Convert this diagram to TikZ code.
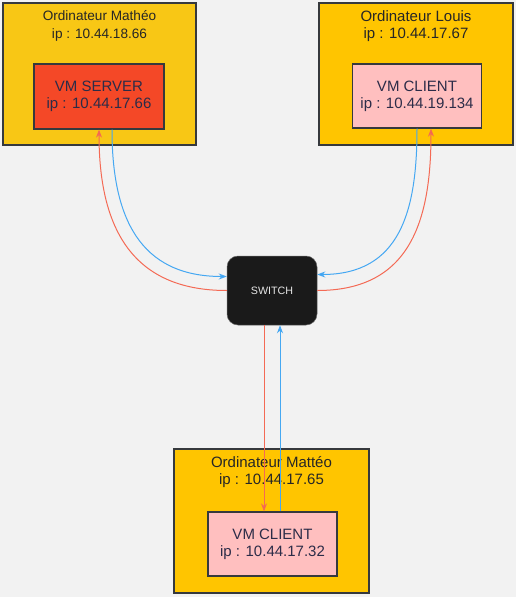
\documentclass[tikz,border=0pt]{standalone}
\usepackage{fontspec}
\setmainfont{Liberation Sans}
\usepackage{tikz}
\usetikzlibrary{arrows.meta}

% ---------- Colours ----------
\definecolor{bgcolor}{HTML}{F2F2F2}
\definecolor{pcyellowA}{HTML}{F8C715}
\definecolor{pcyellowB}{HTML}{FFC500}
\definecolor{servercolor}{HTML}{F44827}
\definecolor{clientcolor}{HTML}{FFBFBF}
\definecolor{switchcolor}{HTML}{1A1A1A}
\definecolor{bordercolor}{HTML}{36393D}
\definecolor{vmtextcolor}{HTML}{2C2C48}
\definecolor{redline}{HTML}{F46A55}
\definecolor{blueline}{HTML}{45A8F2}

\tikzset{
  pcbox/.style={draw=bordercolor, line width=1.3pt, minimum width=192pt, minimum height=142pt, inner sep=0pt},
  vmbox/.style={draw=bordercolor, line width=1.3pt, minimum width=129pt, minimum height=64pt, align=center,
    text=vmtextcolor, font=\fontsize{15}{17}\selectfont},
  pctitle/.style={align=center, text=black!85, font=\fontsize{15}{17}\selectfont},
  tored/.style={draw=redline, line width=1pt, -{Stealth[length=8pt,width=6pt,fill=servercolor]}},
  toblue/.style={draw=blueline, line width=1pt, -{Stealth[length=8pt,width=6pt,fill=blueline!80!blue]}},
}

\begin{document}
\begin{tikzpicture}[x=1pt,y=-1pt]

% ---------- Parameters of the drawing ----------
\def\LinkShift{14}     % Distance between the two links of a pair
\def\TitleGap{5}       % Distance from the top of a computer to its first title line
\def\Bend{1.2}         % Looseness of the curved links

% (0,0) coordinate = upper left corner of the picture, y going down

% ---------- Background ----------
\fill[bgcolor] (0,0) rectangle (516,597);
\useasboundingbox (0,0) rectangle (516,597);

% ---------- Computers ----------
\node[pcbox, fill=pcyellowA, minimum width=193pt] (pcMatheo) at (99.5,74) {};
\node[pcbox, fill=pcyellowB, minimum width=194pt] (pcLouis) at (416,74) {};
\node[pcbox, fill=pcyellowB, minimum width=195pt, minimum height=144pt] (pcMatteo) at (271.5,521) {};

% Titles
\node[pctitle, font=\fontsize{13.6}{17.5}\selectfont, anchor=north] (titleMatheo) at ([yshift=-\TitleGap]pcMatheo.north)
  {Ordinateur Mathéo\\ip : 10.44.18.66};
\node[pctitle, anchor=north] (titleLouis) at ([yshift=-\TitleGap]pcLouis.north)
  {Ordinateur Louis\\ip : 10.44.17.67};
\node[pctitle, anchor=north] (titleMatteo) at ([yshift=-\TitleGap]pcMatteo.north)
  {Ordinateur Mattéo\\ip : 10.44.17.65};

% ---------- Virtual machines ----------
\node[vmbox, fill=servercolor, minimum width=130pt, minimum height=65pt] (vmServer) at (99,96.5)
  {VM SERVER\\ip : 10.44.17.66};
\node[vmbox, fill=clientcolor] (vmClientLouis) at (417,96)
  {VM CLIENT\\ip : 10.44.19.134};
\node[vmbox, fill=clientcolor] (vmClientMatteo) at (272.5,544)
  {VM CLIENT\\ip : 10.44.17.32};

% ---------- Switch ----------
\node[fill=switchcolor, draw=black!60, line width=0.5pt, rounded corners=11pt, minimum width=90pt, minimum height=69pt,
  text=black!10, font=\fontsize{10.7}{12}\selectfont] (switch) at (272,290.5) {SWITCH};

% ---------- Links: left ----------
\draw[toblue] ([xshift=13]vmServer.south) to[out=-90, in=180, looseness=\Bend] ([yshift=\LinkShift]switch.west);
\draw[tored] (switch.west) to[out=180, in=-90, looseness=\Bend] (vmServer.south);

% ---------- Links: right ----------
\draw[toblue] (vmClientLouis.south) to[out=-90, in=0, looseness=\Bend] ([yshift=16]switch.east);
\draw[tored] (switch.east) to[out=0, in=-90, looseness=\Bend] ([xshift=\LinkShift]vmClientLouis.south);

% ---------- Links: bottom ----------
\draw[tored] ([xshift=-8]switch.south) -- ([xshift=-8.5]vmClientMatteo.north);
\draw[toblue] ([xshift=7.5]vmClientMatteo.north) -- ([xshift=8]switch.south);

\end{tikzpicture}
\end{document}
